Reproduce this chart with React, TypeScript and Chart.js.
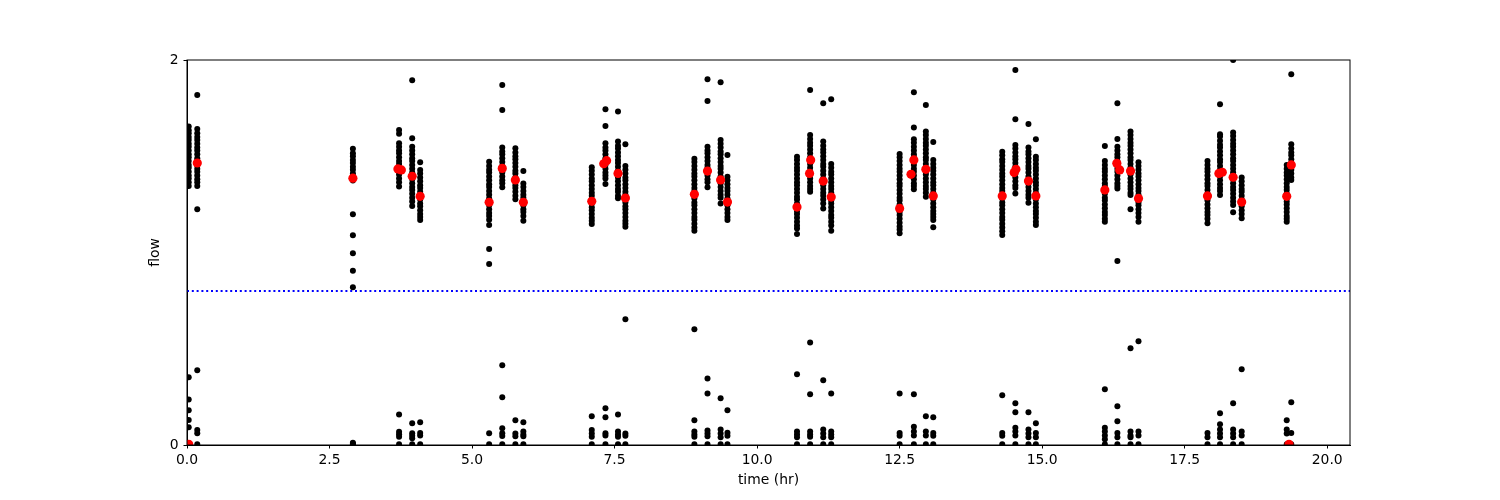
import { useEffect, useRef } from "react";
import { Chart, registerables } from "chart.js";

Chart.register(...registerables);

// time (hr) of each measurement column
const colTimes = [
  0.03, 0.18, 2.91, 3.72, 3.95, 4.09,
  5.3, 5.53, 5.76, 5.9,
  7.1, 7.34, 7.56, 7.69,
  8.9, 9.13, 9.36, 9.48,
  10.7, 10.93, 11.16, 11.3,
  12.5, 12.75, 12.96, 13.09,
  14.3, 14.53, 14.76, 14.89,
  16.1, 16.32, 16.55, 16.69,
  17.9, 18.12, 18.35, 18.5,
  19.29, 19.37,
];

// flow readings in each column (same order as colTimes)
const colFlows = [
  [1.655, 1.635, 1.62, 1.6, 1.585, 1.565, 1.55, 1.53, 1.51, 1.495, 1.475, 1.455, 1.44, 1.42, 1.4, 1.385, 1.365, 1.345, 0.352, 0.237, 0.18, 0.13, 0.092, 0.004],
  [1.818, 1.641, 1.62, 1.6, 1.585, 1.565, 1.545, 1.53, 1.51, 1.49, 1.475, 1.455, 1.435, 1.42, 1.4, 1.38, 1.365, 1.346, 1.225, 0.388, 0.078, 0.061, 0.004],
  [1.539, 1.515, 1.5, 1.48, 1.465, 1.445, 1.43, 1.41, 1.395, 1.374, 1.199, 1.09, 0.996, 0.905, 0.82, 0.012, 0.006, 0.002],
  [1.637, 1.617, 1.568, 1.55, 1.53, 1.515, 1.495, 1.475, 1.46, 1.44, 1.42, 1.405, 1.385, 1.365, 1.343, 0.159, 0.069, 0.056, 0.043, 0.004],
  [1.895, 1.594, 1.55, 1.53, 1.51, 1.49, 1.475, 1.455, 1.435, 1.415, 1.4, 1.38, 1.36, 1.34, 1.325, 1.305, 1.285, 1.265, 1.242, 0.113, 0.061, 0.048, 0.035, 0.004],
  [1.469, 1.429, 1.41, 1.39, 1.37, 1.35, 1.335, 1.315, 1.295, 1.275, 1.255, 1.24, 1.22, 1.2, 1.185, 1.169, 0.118, 0.062, 0.05, 0.004],
  [1.472, 1.45, 1.43, 1.415, 1.395, 1.375, 1.355, 1.34, 1.32, 1.3, 1.28, 1.265, 1.245, 1.225, 1.205, 1.19, 1.17, 1.143, 1.018, 0.94, 0.061, 0.004],
  [1.87, 1.74, 1.546, 1.525, 1.51, 1.49, 1.47, 1.45, 1.435, 1.415, 1.395, 1.375, 1.36, 1.339, 0.414, 0.248, 0.087, 0.061, 0.047, 0.004],
  [1.541, 1.52, 1.5, 1.485, 1.465, 1.445, 1.425, 1.41, 1.39, 1.37, 1.35, 1.335, 1.315, 1.295, 1.276, 0.128, 0.06, 0.045, 0.004],
  [1.423, 1.359, 1.34, 1.32, 1.3, 1.285, 1.265, 1.245, 1.225, 1.21, 1.19, 1.165, 0.118, 0.07, 0.055, 0.045, 0.004],
  [1.443, 1.425, 1.405, 1.385, 1.37, 1.35, 1.33, 1.31, 1.295, 1.275, 1.255, 1.235, 1.22, 1.2, 1.18, 1.165, 1.148, 0.149, 0.078, 0.06, 0.043, 0.004],
  [1.744, 1.657, 1.567, 1.545, 1.53, 1.51, 1.49, 1.47, 1.455, 1.435, 1.415, 1.4, 1.385, 1.356, 0.191, 0.144, 0.061, 0.05, 0.004],
  [1.733, 1.576, 1.555, 1.54, 1.52, 1.5, 1.48, 1.465, 1.445, 1.425, 1.405, 1.39, 1.37, 1.35, 1.33, 1.315, 1.295, 1.282, 0.159, 0.07, 0.055, 0.043, 0.004],
  [1.562, 1.449, 1.43, 1.41, 1.39, 1.375, 1.355, 1.335, 1.315, 1.3, 1.28, 1.26, 1.24, 1.225, 1.205, 1.185, 1.165, 1.15, 1.134, 0.653, 0.06, 0.048, 0.004],
  [1.487, 1.47, 1.45, 1.43, 1.41, 1.395, 1.375, 1.355, 1.335, 1.32, 1.3, 1.28, 1.26, 1.245, 1.225, 1.205, 1.185, 1.17, 1.15, 1.13, 1.113, 0.601, 0.128, 0.07, 0.055, 0.043, 0.004],
  [1.9, 1.787, 1.55, 1.53, 1.515, 1.495, 1.475, 1.455, 1.44, 1.42, 1.4, 1.38, 1.365, 1.339, 0.346, 0.268, 0.075, 0.06, 0.045, 0.004],
  [1.884, 1.584, 1.565, 1.545, 1.525, 1.51, 1.49, 1.47, 1.45, 1.435, 1.415, 1.395, 1.375, 1.36, 1.34, 1.32, 1.3, 1.285, 1.255, 0.243, 0.08, 0.06, 0.04, 0.004],
  [1.506, 1.394, 1.375, 1.355, 1.335, 1.32, 1.3, 1.28, 1.26, 1.245, 1.225, 1.205, 1.185, 1.169, 0.18, 0.063, 0.048, 0.004],
  [1.498, 1.48, 1.46, 1.44, 1.425, 1.405, 1.385, 1.365, 1.35, 1.33, 1.31, 1.29, 1.275, 1.255, 1.235, 1.215, 1.2, 1.18, 1.16, 1.14, 1.125, 1.096, 0.367, 0.07, 0.055, 0.04, 0.004],
  [1.844, 1.61, 1.59, 1.57, 1.555, 1.535, 1.515, 1.495, 1.48, 1.46, 1.44, 1.42, 1.405, 1.385, 1.365, 1.345, 1.33, 1.316, 0.533, 0.263, 0.07, 0.055, 0.043, 0.004],
  [1.775, 1.576, 1.555, 1.535, 1.52, 1.5, 1.48, 1.46, 1.445, 1.425, 1.405, 1.385, 1.37, 1.35, 1.33, 1.31, 1.295, 1.275, 1.255, 1.229, 0.336, 0.08, 0.06, 0.04, 0.004],
  [1.796, 1.46, 1.44, 1.42, 1.405, 1.385, 1.365, 1.345, 1.33, 1.31, 1.29, 1.27, 1.255, 1.235, 1.215, 1.195, 1.18, 1.16, 1.14, 1.113, 0.268, 0.07, 0.055, 0.04, 0.004],
  [1.512, 1.495, 1.475, 1.455, 1.435, 1.42, 1.4, 1.38, 1.36, 1.345, 1.325, 1.305, 1.285, 1.27, 1.25, 1.23, 1.21, 1.195, 1.175, 1.155, 1.135, 1.12, 1.1, 0.268, 0.062, 0.048, 0.004],
  [1.832, 1.65, 1.588, 1.57, 1.55, 1.53, 1.51, 1.495, 1.475, 1.455, 1.435, 1.42, 1.4, 1.38, 1.36, 1.345, 1.328, 0.263, 0.095, 0.07, 0.05, 0.004],
  [1.766, 1.628, 1.61, 1.59, 1.57, 1.555, 1.535, 1.515, 1.495, 1.48, 1.46, 1.44, 1.42, 1.405, 1.385, 1.365, 1.345, 1.33, 1.31, 1.29, 0.149, 0.07, 0.05, 0.004],
  [1.574, 1.481, 1.46, 1.44, 1.425, 1.405, 1.385, 1.365, 1.35, 1.33, 1.31, 1.29, 1.275, 1.255, 1.235, 1.215, 1.2, 1.185, 1.169, 1.131, 0.144, 0.062, 0.048, 0.004],
  [1.524, 1.505, 1.485, 1.47, 1.45, 1.43, 1.41, 1.395, 1.375, 1.355, 1.335, 1.32, 1.3, 1.28, 1.26, 1.245, 1.225, 1.205, 1.185, 1.17, 1.15, 1.13, 1.11, 1.091, 0.258, 0.062, 0.048, 0.004],
  [1.948, 1.692, 1.558, 1.54, 1.52, 1.5, 1.485, 1.465, 1.445, 1.425, 1.41, 1.39, 1.37, 1.35, 1.335, 1.307, 0.217, 0.17, 0.09, 0.07, 0.05, 0.004],
  [1.668, 1.546, 1.525, 1.51, 1.49, 1.47, 1.45, 1.435, 1.415, 1.395, 1.375, 1.36, 1.34, 1.32, 1.3, 1.285, 1.259, 0.17, 0.08, 0.06, 0.04, 0.004],
  [1.588, 1.498, 1.48, 1.46, 1.44, 1.425, 1.405, 1.385, 1.365, 1.35, 1.33, 1.31, 1.29, 1.275, 1.255, 1.235, 1.215, 1.2, 1.18, 1.16, 1.143, 0.113, 0.062, 0.04, 0.004],
  [1.553, 1.475, 1.455, 1.435, 1.42, 1.4, 1.38, 1.36, 1.345, 1.325, 1.305, 1.285, 1.27, 1.25, 1.23, 1.21, 1.195, 1.175, 1.16, 0.289, 0.09, 0.07, 0.05, 0.03, 0.004],
  [1.775, 1.59, 1.55, 1.53, 1.51, 1.495, 1.475, 1.455, 1.435, 1.42, 1.4, 1.38, 1.36, 1.345, 1.333, 0.956, 0.201, 0.123, 0.062, 0.04, 0.004],
  [1.628, 1.61, 1.59, 1.57, 1.555, 1.535, 1.515, 1.495, 1.48, 1.46, 1.44, 1.42, 1.405, 1.385, 1.365, 1.345, 1.33, 1.31, 1.299, 1.225, 0.502, 0.07, 0.05, 0.04, 0.004],
  [1.469, 1.45, 1.43, 1.41, 1.395, 1.375, 1.355, 1.335, 1.32, 1.3, 1.28, 1.26, 1.245, 1.225, 1.205, 1.185, 1.16, 0.539, 0.07, 0.05, 0.004],
  [1.475, 1.455, 1.435, 1.42, 1.4, 1.38, 1.36, 1.345, 1.325, 1.305, 1.285, 1.27, 1.25, 1.23, 1.21, 1.195, 1.175, 1.152, 0.062, 0.04, 0.004],
  [1.77, 1.614, 1.602, 1.58, 1.56, 1.545, 1.525, 1.505, 1.485, 1.47, 1.45, 1.43, 1.41, 1.395, 1.375, 1.355, 1.335, 1.32, 1.299, 0.165, 0.108, 0.08, 0.06, 0.04, 0.004],
  [2.0, 1.624, 1.605, 1.585, 1.565, 1.55, 1.53, 1.51, 1.49, 1.475, 1.455, 1.435, 1.415, 1.4, 1.38, 1.36, 1.34, 1.325, 1.305, 1.285, 1.265, 1.247, 1.209, 0.217, 0.08, 0.06, 0.04, 0.004],
  [1.389, 1.37, 1.35, 1.33, 1.315, 1.295, 1.275, 1.255, 1.24, 1.22, 1.2, 1.178, 0.393, 0.07, 0.05, 0.004],
  [1.455, 1.435, 1.415, 1.4, 1.38, 1.36, 1.34, 1.325, 1.305, 1.285, 1.265, 1.25, 1.23, 1.21, 1.19, 1.175, 1.16, 0.128, 0.08, 0.06, 0.004],
  [1.926, 1.562, 1.54, 1.52, 1.505, 1.485, 1.465, 1.445, 1.43, 1.41, 1.39, 1.377, 0.222, 0.062, 0.004],
];

// red mean markers
const meanTimes = [
  0.03, 0.18, 2.91, 3.7, 3.76, 3.95, 4.09,
  5.3, 5.53, 5.76, 5.9,
  7.1, 7.31, 7.36, 7.56, 7.69,
  8.9, 9.13, 9.36, 9.48,
  10.7, 10.94, 10.92, 11.16, 11.3,
  12.5, 12.75, 12.7, 12.96, 13.09,
  14.3, 14.54, 14.51, 14.76, 14.89,
  16.1, 16.31, 16.36, 16.55, 16.69,
  17.9, 18.1, 18.16, 18.35, 18.5,
  19.29, 19.37, 19.33,
];
const meanFlows = [
  0.004, 1.465, 1.386, 1.434, 1.429, 1.396, 1.292,
  1.261, 1.437, 1.377, 1.261,
  1.266, 1.461, 1.477, 1.411, 1.283,
  1.302, 1.423, 1.377, 1.262,
  1.236, 1.481, 1.411, 1.371, 1.288,
  1.229, 1.481, 1.406, 1.432, 1.294,
  1.294, 1.432, 1.415, 1.371, 1.294,
  1.325, 1.463, 1.429, 1.423, 1.281,
  1.294, 1.411, 1.417, 1.391, 1.262,
  1.292, 1.455, 0.004,
];

const threshold = 0.8;
const xMin = 0;
const xMax = 20.4;
const xTicks = [0, 2.5, 5, 7.5, 10, 12.5, 15, 17.5, 20];
const yTicks = [0, 2];

const font = { family: "DejaVu Sans", size: 13.9 };

const frame = {
  id: "frame",
  afterDraw(chart: Chart) {
    const { ctx, chartArea } = chart;
    ctx.save();
    ctx.strokeStyle = "#000";
    ctx.lineWidth = 1;
    ctx.strokeRect(chartArea.left, chartArea.top, chartArea.right - chartArea.left, chartArea.bottom - chartArea.top);
    ctx.restore();
  },
};

export default function App() {
  const canvasRef = useRef<HTMLCanvasElement>(null);
  const chartRef = useRef<Chart | null>(null);

  useEffect(() => {
    if (!canvasRef.current) return;
    const ctx = canvasRef.current.getContext("2d");
    if (!ctx) return;
    if (chartRef.current) chartRef.current.destroy();

    const blackPoints = colTimes.flatMap((t, i) => colFlows[i].map((f) => ({ x: t, y: f })));
    const redPoints = meanTimes.map((t, i) => ({ x: t, y: meanFlows[i] }));

    // chart.js paints dataset 0 on top, so the means come first
    chartRef.current = new Chart(ctx, {
      type: "scatter",
      data: {
        datasets: [
          {
            data: redPoints,
            backgroundColor: "#ff0000",
            borderWidth: 0,
            pointRadius: 4.6,
            clip: 0,
          },
          {
            data: blackPoints,
            backgroundColor: "#000000",
            borderWidth: 0,
            pointRadius: 3,
            clip: 0,
          },
          {
            type: "line",
            data: [
              { x: xMin, y: threshold },
              { x: xMax, y: threshold },
            ],
            borderColor: "#0000ff",
            borderWidth: 2,
            borderDash: [2, 2.8],
            pointRadius: 0,
            clip: 0,
          },
        ],
      },
      options: {
        responsive: false,
        animation: false,
        events: [],
        layout: { padding: { left: 143, right: 150, top: 60, bottom: 7 } },
        plugins: { legend: { display: false }, tooltip: { enabled: false } },
        scales: {
          x: {
            type: "linear",
            min: xMin,
            max: xMax,
            afterBuildTicks: (scale) => {
              scale.ticks = xTicks.map((v) => ({ value: v }));
            },
            afterFit: (scale) => {
              scale.height = 48;
            },
            grid: { drawOnChartArea: false, drawTicks: true, tickLength: 3.5, color: "#000" },
            border: { display: true, color: "#000", width: 1 },
            ticks: { color: "#000", font, padding: 4, maxRotation: 0, callback: (v) => Number(v).toFixed(1) },
            title: { display: true, text: "time (hr)", color: "#000", font },
          },
          y: {
            type: "linear",
            min: 0,
            max: 2,
            afterBuildTicks: (scale) => {
              scale.ticks = yTicks.map((v) => ({ value: v }));
            },
            afterFit: (scale) => {
              scale.width = 44;
            },
            grid: { drawOnChartArea: false, drawTicks: true, tickLength: 3.5, color: "#000" },
            border: { display: true, color: "#000", width: 1 },
            ticks: { color: "#000", font, padding: 5, callback: (v) => String(v) },
            title: { display: true, text: "flow", color: "#000", font },
          },
        },
      },
      plugins: [frame],
    });

    return () => {
      if (chartRef.current) {
        chartRef.current.destroy();
        chartRef.current = null;
      }
    };
  }, []);

  return (
    <div style={{ position: "fixed", left: 0, top: 0, width: 1500, height: 500, background: "#fff" }}>
      <canvas ref={canvasRef} width={1500} height={500} />
    </div>
  );
}
